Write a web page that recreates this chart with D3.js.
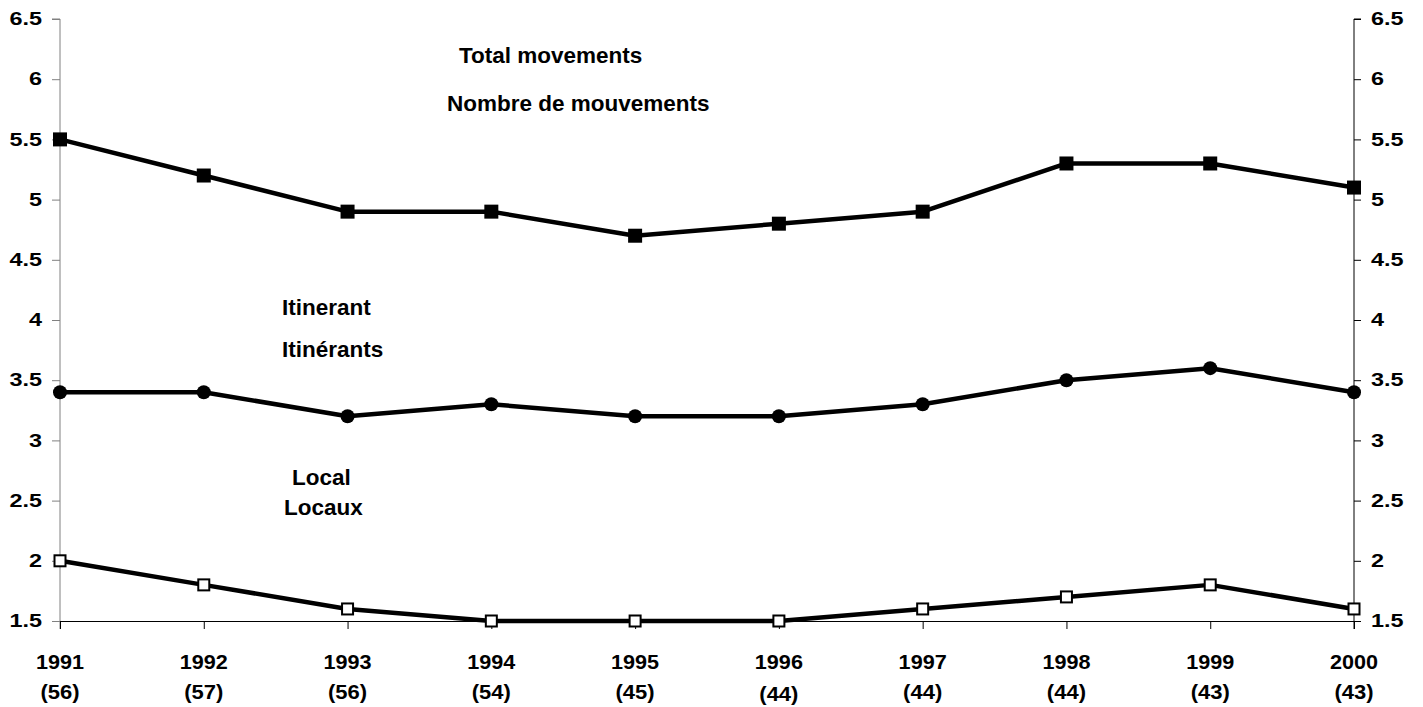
<!DOCTYPE html>
<html>
<head>
<meta charset="utf-8">
<script src="https://cdn.jsdelivr.net/npm/d3@7"></script>
<style>
  body { margin: 0; background: #fff; }
  svg { display: block; font-family: "Liberation Sans", Arial, sans-serif; font-weight: bold; }
</style>
</head>
<body>
<div id="chart"></div>
<script>
// data
const years = ["1991", "1992", "1993", "1994", "1995", "1996", "1997", "1998", "1999", "2000"];
const counts = ["(56)", "(57)", "(56)", "(54)", "(45)", "(44)", "(44)", "(44)", "(43)", "(43)"];
const total = [5.5, 5.2, 4.9, 4.9, 4.7, 4.8, 4.9, 5.3, 5.3, 5.1];
const itinerant = [3.4, 3.4, 3.2, 3.3, 3.2, 3.2, 3.3, 3.5, 3.6, 3.4];
const local = [2.0, 1.8, 1.6, 1.5, 1.5, 1.5, 1.6, 1.7, 1.8, 1.6];
const yTicks = [1.5, 2, 2.5, 3, 3.5, 4, 4.5, 5, 5.5, 6, 6.5];

const width = 1423, height = 707;
const margin = { top: 19, right: 69, bottom: 86, left: 60 };

const svg = d3.select("#chart").append("svg")
  .attr("width", width)
  .attr("height", height);

// the original labels are drawn a bit wider than the font, stretch them
function stretch(sel, k) {
  sel.each(function() {
    const w = this.getComputedTextLength();
    d3.select(this).attr("textLength", w * k).attr("lengthAdjust", "spacingAndGlyphs");
  });
}

const x = d3.scalePoint()
  .domain(years)
  .range([margin.left, width - margin.right]);

const y = d3.scaleLinear()
  .domain([1.5, 6.5])
  .range([height - margin.bottom, margin.top]);

// left axis (grey)
const leftAxis = svg.append("g")
  .attr("transform", `translate(${margin.left},0)`)
  .call(d3.axisLeft(y).tickValues(yTicks).tickSize(8).tickPadding(10).tickFormat(d3.format("")));
leftAxis.select(".domain").attr("stroke", "#808080").attr("d", `M-8,${y(6.5)}H0V${y(1.5) + 8}`);
leftAxis.selectAll(".tick line").attr("stroke", "#808080");

// right axis
const rightAxis = svg.append("g")
  .attr("transform", `translate(${width - margin.right},0)`)
  .call(d3.axisRight(y).tickValues(yTicks).tickSize(7).tickPadding(10).tickFormat(d3.format("")));
rightAxis.select(".domain").attr("d", `M7,${y(6.5)}H0V${y(1.5) + 8}`);

[leftAxis, rightAxis].forEach(a => {
  const t = a.selectAll("text")
    .attr("font-size", 18)
    .attr("font-weight", "bold")
    .attr("fill", "#000")
    .attr("font-family", "Liberation Sans, Arial, sans-serif");
  stretch(t, 1.3);
});

// bottom axis
const bottomAxis = svg.append("g")
  .attr("transform", `translate(0,${y(1.5)})`)
  .call(d3.axisBottom(x).tickSize(8).tickFormat(""));
bottomAxis.select(".domain").attr("d", `M${margin.left},0.5H${width - margin.right}`).attr("stroke", "#000");

const labels = svg.append("g").attr("font-size", 20).attr("text-anchor", "middle");
const yrText = labels.selectAll("text.yr")
  .data(years)
  .join("text")
  .attr("class", "yr")
  .attr("x", d => x(d))
  .attr("y", 669)
  .text(d => d);
const ctText = labels.selectAll("text.ct")
  .data(counts)
  .join("text")
  .attr("class", "ct")
  .attr("x", (d, i) => x(years[i]))
  .attr("y", (d, i) => i === 5 ? 701 : 699)
  .text(d => d);
stretch(yrText, 1.08);
stretch(ctText, 1.1);

// lines
const line = d3.line()
  .x((d, i) => x(years[i]))
  .y(d => y(d));

[total, itinerant, local].forEach(s => {
  svg.append("path")
    .datum(s)
    .attr("fill", "none")
    .attr("stroke", "#000")
    .attr("stroke-width", 4.5)
    .attr("stroke-linejoin", "round")
    .attr("d", line);
});

// markers
svg.append("g").selectAll("rect")
  .data(total)
  .join("rect")
  .attr("x", (d, i) => x(years[i]) - 7)
  .attr("y", d => y(d) - 7)
  .attr("width", 14)
  .attr("height", 14)
  .attr("fill", "#000");

svg.append("g").selectAll("circle")
  .data(itinerant)
  .join("circle")
  .attr("cx", (d, i) => x(years[i]))
  .attr("cy", d => y(d))
  .attr("r", 7)
  .attr("fill", "#000");

svg.append("g").selectAll("rect")
  .data(local)
  .join("rect")
  .attr("x", (d, i) => x(years[i]) - 5.5)
  .attr("y", d => y(d) - 5.5)
  .attr("width", 11)
  .attr("height", 11)
  .attr("fill", "#fff")
  .attr("stroke", "#000")
  .attr("stroke-width", 2);

// series labels
const notes = [
  { t: "Total movements", x: 459, y: 63 },
  { t: "Nombre de mouvements", x: 447, y: 111 },
  { t: "Itinerant", x: 282, y: 315 },
  { t: "Itinérants", x: 282, y: 357 },
  { t: "Local", x: 292, y: 485 },
  { t: "Locaux", x: 284, y: 515 }
];
svg.append("g").attr("font-size", 22.5).selectAll("text")
  .data(notes)
  .join("text")
  .attr("x", d => d.x)
  .attr("y", d => d.y)
  .text(d => d.t);
</script>
</body>
</html>
